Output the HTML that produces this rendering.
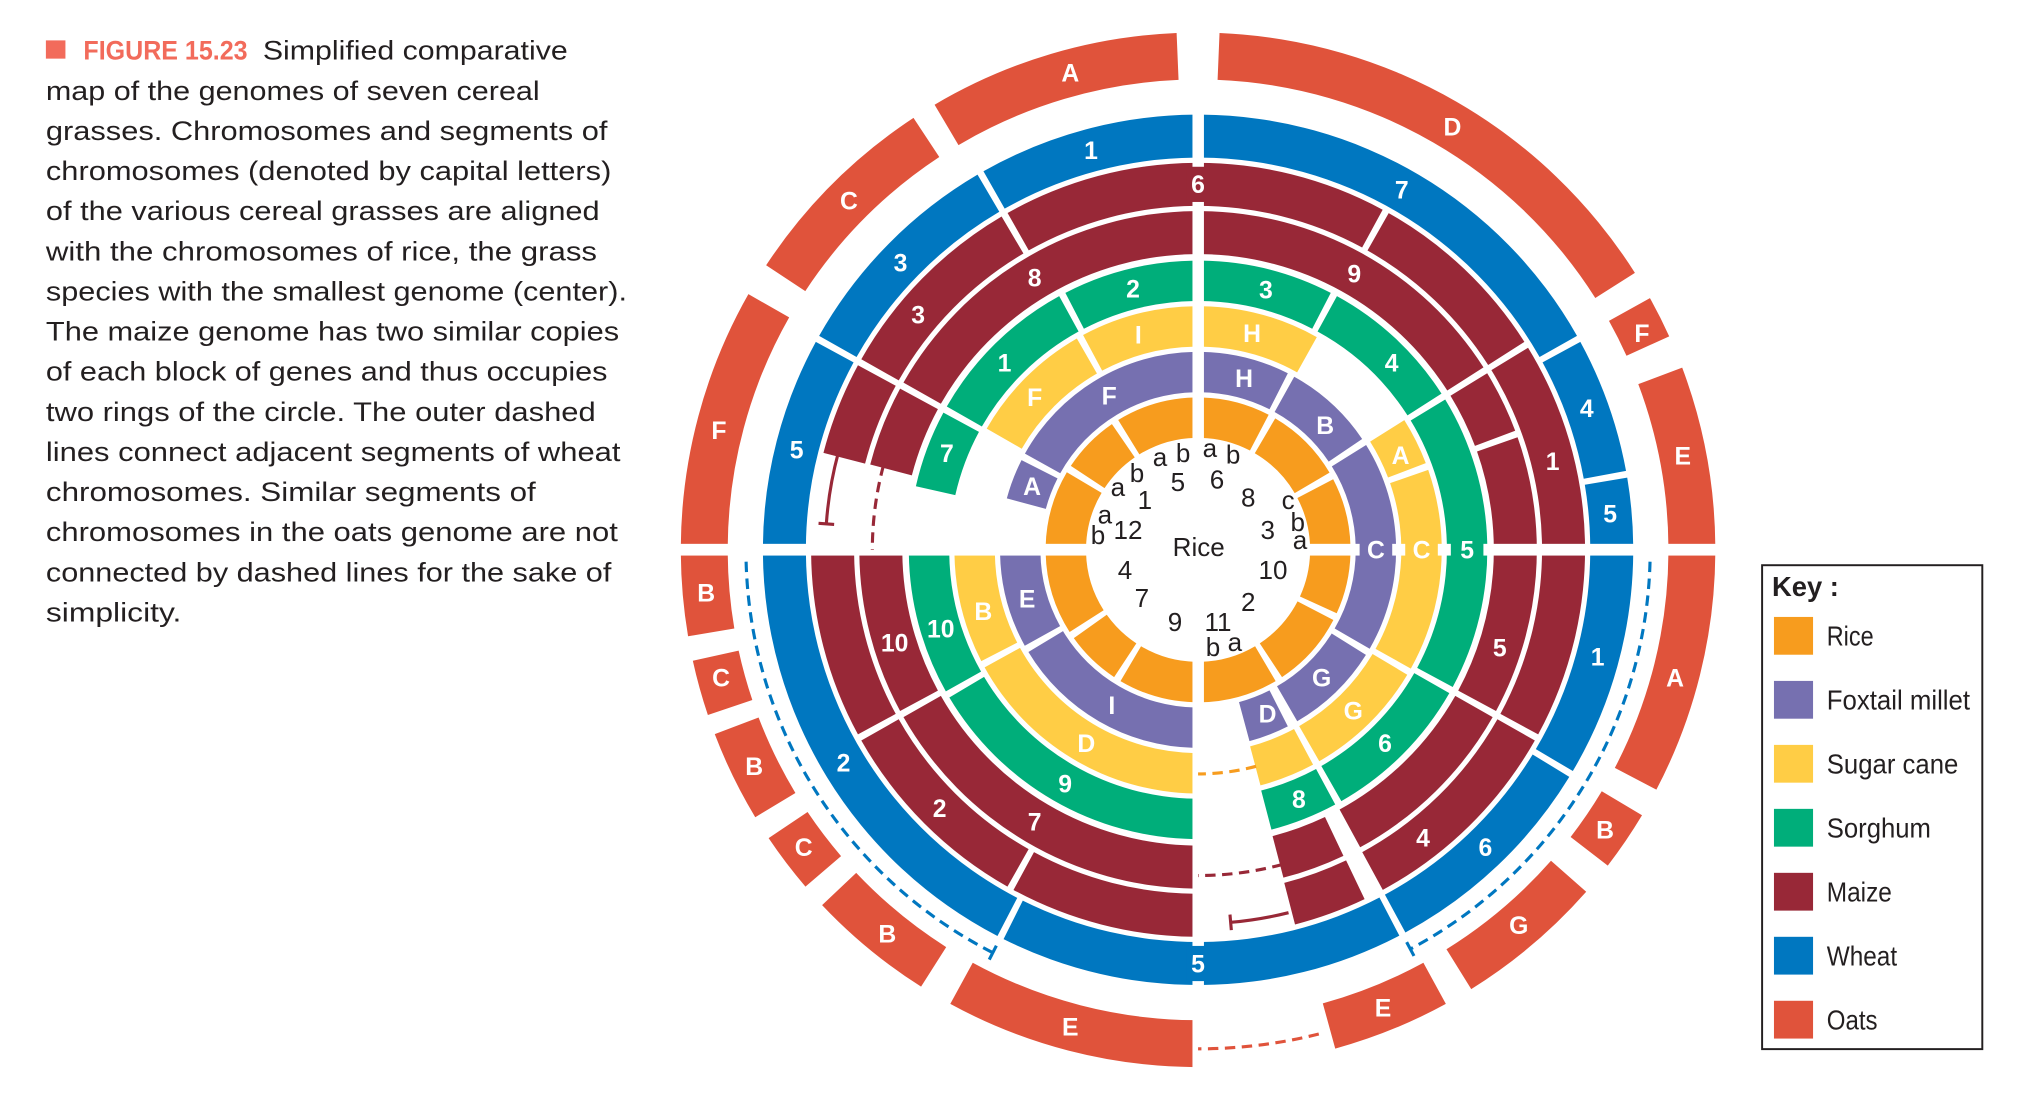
<!DOCTYPE html>
<html><head><meta charset="utf-8"><style>
html,body{margin:0;padding:0;background:#fff;}
svg{display:block;}
.cap{font-family:"Liberation Sans",sans-serif;font-size:20.5px;fill:#231f20;}
.rt{font-family:"Liberation Sans",sans-serif;font-size:20px;fill:#231f20;text-anchor:middle;dominant-baseline:central;}
.seg-label{font-family:"Liberation Sans",sans-serif;font-weight:bold;font-size:19px;fill:#fff;text-anchor:middle;dominant-baseline:central;}
.key{font-family:"Liberation Sans",sans-serif;font-size:21px;fill:#231f20;}
</style></head><body>
<svg id="chart" width="2042" height="1120" viewBox="0 0 1567.2 859.6" xmlns="http://www.w3.org/2000/svg">
<g>
<rect x="35.2" y="31" width="15" height="14" fill="#f26b5b"/>
<text class="cap" x="64" y="45.8" textLength="126" lengthAdjust="spacingAndGlyphs" style="font-weight:bold;fill:#f26b5b">FIGURE 15.23</text>
<text class="cap" x="201.7" y="45.8" textLength="234" lengthAdjust="spacingAndGlyphs">Simplified comparative</text>
<text class="cap" x="35.2" y="76.6" textLength="379" lengthAdjust="spacingAndGlyphs">map of the genomes of seven cereal</text>
<text class="cap" x="35.2" y="107.4" textLength="431" lengthAdjust="spacingAndGlyphs">grasses. Chromosomes and segments of</text>
<text class="cap" x="35.2" y="138.2" textLength="434" lengthAdjust="spacingAndGlyphs">chromosomes (denoted by capital letters)</text>
<text class="cap" x="35.2" y="169" textLength="425" lengthAdjust="spacingAndGlyphs">of the various cereal grasses are aligned</text>
<text class="cap" x="35.2" y="199.8" textLength="423" lengthAdjust="spacingAndGlyphs">with the chromosomes of rice, the grass</text>
<text class="cap" x="35.2" y="230.6" textLength="446" lengthAdjust="spacingAndGlyphs">species with the smallest genome (center).</text>
<text class="cap" x="35.2" y="261.4" textLength="440" lengthAdjust="spacingAndGlyphs">The maize genome has two similar copies</text>
<text class="cap" x="35.2" y="292.2" textLength="431" lengthAdjust="spacingAndGlyphs">of each block of genes and thus occupies</text>
<text class="cap" x="35.2" y="323" textLength="422" lengthAdjust="spacingAndGlyphs">two rings of the circle. The outer dashed</text>
<text class="cap" x="35.2" y="353.8" textLength="441" lengthAdjust="spacingAndGlyphs">lines connect adjacent segments of wheat</text>
<text class="cap" x="35.2" y="384.6" textLength="376" lengthAdjust="spacingAndGlyphs">chromosomes. Similar segments of</text>
<text class="cap" x="35.2" y="415.4" textLength="439" lengthAdjust="spacingAndGlyphs">chromosomes in the oats genome are not</text>
<text class="cap" x="35.2" y="446.2" textLength="434" lengthAdjust="spacingAndGlyphs">connected by dashed lines for the sake of</text>
<text class="cap" x="35.2" y="477" textLength="104" lengthAdjust="spacingAndGlyphs">simplicity.</text>
</g>
<g id="rings"></g>
<g id="gaps">
<rect x="915.2" y="15" width="8.8" height="820" fill="#fff"/>
<rect x="515" y="417.4" width="810" height="9" fill="#fff"/>
</g>
<g id="links"></g>
<g id="labels"></g>
<g>
<text class="rt" x="920" y="419.8">Rice</text>
<text class="rt" x="890.3" y="350.6">a</text>
<text class="rt" x="908" y="347.8">b</text>
<text class="rt" x="904" y="370">5</text>
<text class="rt" x="928.6" y="344">a</text>
<text class="rt" x="946.4" y="349">b</text>
<text class="rt" x="934" y="368">6</text>
<text class="rt" x="958" y="382">8</text>
<text class="rt" x="988.6" y="383.7">c</text>
<text class="rt" x="996" y="400.6">b</text>
<text class="rt" x="997.7" y="414.4">a</text>
<text class="rt" x="973" y="406.8">3</text>
<text class="rt" x="977" y="437.5">10</text>
<text class="rt" x="958" y="462">2</text>
<text class="rt" x="934.8" y="477.4">11</text>
<text class="rt" x="931" y="496.5">b</text>
<text class="rt" x="947.8" y="492.7">a</text>
<text class="rt" x="901.8" y="477.4">9</text>
<text class="rt" x="876.4" y="459">7</text>
<text class="rt" x="863.4" y="437.5">4</text>
<text class="rt" x="842.7" y="410.6">b</text>
<text class="rt" x="848" y="395">a</text>
<text class="rt" x="865.7" y="406.8">12</text>
<text class="rt" x="878.7" y="383.7">1</text>
<text class="rt" x="858" y="373.7">a</text>
<text class="rt" x="872.6" y="363">b</text>
</g>
<g>
<rect x="1352.4" y="433.8" width="169" height="371.4" fill="none" stroke="#231f20" stroke-width="1.5"/>
<text class="key" x="1360" y="457.5" style="font-weight:bold">Key :</text>
<g id="legendItems"></g>
</g>
</svg>
<script>
const cx = 919.5, cy = 422;
// ring radii [inner, outer]
const riceR = [86, 117], milletR = [121, 152], sugarR = [156, 187], sorghumR = [191, 222];
const maizeInR = [227, 260], maizeOutR = [264, 297], wheatR = [301, 334], oatsR = [361, 397];
// segments as [startAngle, endAngle] (degrees clockwise from 12 o'clock)
const riceSegs = [[-90,-58],[-58,-33],[-33,0],[0,29],[29,61],[61,90],[90,116],[116,148],[148,180],[180,212],[212,236],[236,270]];
const milletSegs = [[-76,-62],[-62,0],[0,28],[28,57],[57,121],[121,151],[152,166],[180,240],[240,270]];
const milletLabels = ['A','F','H','B','C','G','D','I','E'];
const milletLabelAngles = [-69,-30,15,45.6,90,136,157,209,254];
const sugarSegs = [[-61,-29],[-29,0],[0,30],[57,70],[70,120],[120,151],[151,166],[180,242],[242,270]];
const sugarLabels = ['F','I','H','A','C','G','D','B'];
const sugarLabelAngles = [-47,-15.5,14,65,90,136,210,254];
const sorghumSegs = [[-78,-61],[-61,-28],[-28,0],[0,28],[28,58],[58,119],[119,151],[151,166],[180,240],[240,270]];
const sorghumLabels = ['7','1','2','3','4','5','6','8','9','10'];
const sorghumLabelAngles = [-69,-46,-14,14.6,46,90,136,158,209.6,253];
const maizeInSegs = [[-76,-61],[-61,0],[0,58],[58,70],[70,119],[119,152],[154,166],[180,241],[241,270]];
const maizeInLabels = ['8','9','5','7','10'];
const maizeInLabelAngles = [-31,29.5,108,211,253];
const maizeOutSegs = [[-76,-61],[-61,-30],[-30,29],[29,58],[58,119],[119,152],[154,166],[180,209],[209,241],[241,270]];
const maizeOutLabels = ['3','6','1','4','2'];
const maizeOutLabelAngles = [-50,0,76,142,225];
const wheatSegs = [[-90,-61],[-61,-30],[-30,0],[0,61],[61,80],[80,90],[90,121],[121,152],[152,207],[207,270]];
const wheatLabels = ['5','3','1','7','4','5','1','6','5','2'];
const wheatLabelAngles = [-76,-46,-15,29.5,70,85,105,136,180,239];
const oatsSegs = [[-90,-60],[-57,-33],[-31,-2],[2,58],[60.5,66],[69,90],[90,118],[120.5,128],[131,148.5],[151,165],[180,209],[212,227],[229,236.5],[238.5,249.5],[251,258],[260,270]];
const oatsLabels = ['F','C','A','D','F','E','A','B','G','E','E','B','C','B','C','B'];
const oatsLabelAngles = [-76,-45,-15,31,64,79,105,124.5,139.5,158,195,219,233,244,255,265];
// legend
const legendNames = ['Rice','Foxtail millet','Sugar cane','Sorghum','Maize','Wheat','Oats'];
const legendColors = ['#f79c1e','#7670b0','#ffcd45','#00ae7a','#982837','#0077c0','#e0533b'];
const legendWidths = [36,110,101,80,50,54,39];

const NS = 'http://www.w3.org/2000/svg';
function pt(r, th){ const a = th*Math.PI/180; return [cx + r*Math.sin(a), cy - r*Math.cos(a)]; }
function sectorPath(r0, r1, a0, a1){
  const gap = 5, rm = (r0+r1)/2;
  const d = (gap/2)/rm*180/Math.PI;
  const s = a0 + d, e = a1 - d;
  const large = (e - s) > 180 ? 1 : 0;
  const p1 = pt(r1, s), p2 = pt(r1, e), p3 = pt(r0, e), p4 = pt(r0, s);
  return `M${p1[0]},${p1[1]} A${r1},${r1} 0 ${large} 1 ${p2[0]},${p2[1]} L${p3[0]},${p3[1]} A${r0},${r0} 0 ${large} 0 ${p4[0]},${p4[1]} Z`;
}
const ringsG = document.getElementById('rings');
const labelsG = document.getElementById('labels');
function drawRing(name, radii, segs, color, labels, angles){
  segs.forEach((sg, i) => {
    const p = document.createElementNS(NS, 'path');
    p.setAttribute('d', sectorPath(radii[0], radii[1], sg[0], sg[1]));
    p.setAttribute('fill', color);
    
    
    ringsG.appendChild(p);
  });
  if (!labels) return;
  labels.forEach((lb, i) => {
    const q = pt((radii[0]+radii[1])/2, angles[i]);
    if (angles[i] % 90 === 0) {
      // label sits on the cross gap: colored backing patch
      const w = (radii[1]-radii[0]) - 6, h = 9 + 8;
      const patch = document.createElementNS(NS, 'rect');
      const horiz = (angles[i] % 180 !== 0);
      patch.setAttribute('x', q[0] - (horiz ? w/2 : h/2));
      patch.setAttribute('y', q[1] - (horiz ? h/2 : w/2));
      patch.setAttribute('width', horiz ? w : h);
      patch.setAttribute('height', horiz ? h : w);
      patch.setAttribute('fill', color);
      
      
      labelsG.appendChild(patch);
    }
    const t = document.createElementNS(NS, 'text');
    t.setAttribute('x', q[0]); t.setAttribute('y', q[1] + 1);
    t.setAttribute('class', 'seg-label');
    
    
    t.textContent = lb;
    labelsG.appendChild(t);
  });
}
drawRing('rice', riceR, riceSegs, legendColors[0]);
drawRing('foxtail-millet', milletR, milletSegs, legendColors[1], milletLabels, milletLabelAngles);
drawRing('sugar-cane', sugarR, sugarSegs, legendColors[2], sugarLabels, sugarLabelAngles);
drawRing('sorghum', sorghumR, sorghumSegs, legendColors[3], sorghumLabels, sorghumLabelAngles);
drawRing('maize-inner', maizeInR, maizeInSegs, legendColors[4], maizeInLabels, maizeInLabelAngles);
drawRing('maize-outer', maizeOutR, maizeOutSegs, legendColors[4], maizeOutLabels, maizeOutLabelAngles);
drawRing('wheat', wheatR, wheatSegs, legendColors[5], wheatLabels, wheatLabelAngles);
drawRing('oats', oatsR, oatsSegs, legendColors[6], oatsLabels, oatsLabelAngles);

// connector arcs: [radius, startAngle, endAngle, colorIndex, dashed, capEnd]
const linkRadii = [347, 347, 286, 250, 250, 287, 172, 383];
const linkStarts = [268.5, 91.5, -75, -75, 165, 166, 165, 166];
const linkEnds = [207, 152, -86, -90, 180, 175, 180, 180];
const linkColors = [5, 5, 4, 4, 4, 4, 0, 6];
const linkDashed = [1, 1, 0, 1, 1, 0, 1, 1];
const linksG = document.getElementById('links');
linkRadii.forEach((r, i) => {
  const a0 = linkStarts[i], a1 = linkEnds[i];
  const p0 = pt(r, a0), p1 = pt(r, a1);
  const sweep = a1 > a0 ? 1 : 0;
  const path = document.createElementNS(NS, 'path');
  path.setAttribute('d', `M${p0[0]},${p0[1]} A${r},${r} 0 0 ${sweep} ${p1[0]},${p1[1]}`);
  path.setAttribute('fill', 'none');
  path.setAttribute('stroke', legendColors[linkColors[i]]);
  path.setAttribute('stroke-width', '2.4');
  if (linkDashed[i]) path.setAttribute('stroke-dasharray', '8 5');
  
  
  linksG.appendChild(path);
  if (!linkDashed[i] || linkColors[i] === 5) {
    const c0 = pt(r - 6, a1), c1 = pt(r + 6, a1);
    const cap = document.createElementNS(NS, 'line');
    cap.setAttribute('x1', c0[0]); cap.setAttribute('y1', c0[1]);
    cap.setAttribute('x2', c1[0]); cap.setAttribute('y2', c1[1]);
    cap.setAttribute('stroke', legendColors[linkColors[i]]);
    cap.setAttribute('stroke-width', '2.4');
    
    
    linksG.appendChild(cap);
  }
});

const legG = document.getElementById('legendItems');
legendNames.forEach((n, i) => {
  const y = 473.5 + i*49.1;
  const r = document.createElementNS(NS, 'rect');
  r.setAttribute('x', 1361.5); r.setAttribute('y', y);
  r.setAttribute('width', 30); r.setAttribute('height', 29);
  r.setAttribute('fill', legendColors[i]);
  
  
  legG.appendChild(r);
  const t = document.createElementNS(NS, 'text');
  t.setAttribute('x', 1402); t.setAttribute('y', y + 22);
  t.setAttribute('class', 'key');
  t.setAttribute('textLength', legendWidths[i]);
  t.setAttribute('lengthAdjust', 'spacingAndGlyphs');
  
  
  t.textContent = n;
  legG.appendChild(t);
});
</script>
</body></html>
